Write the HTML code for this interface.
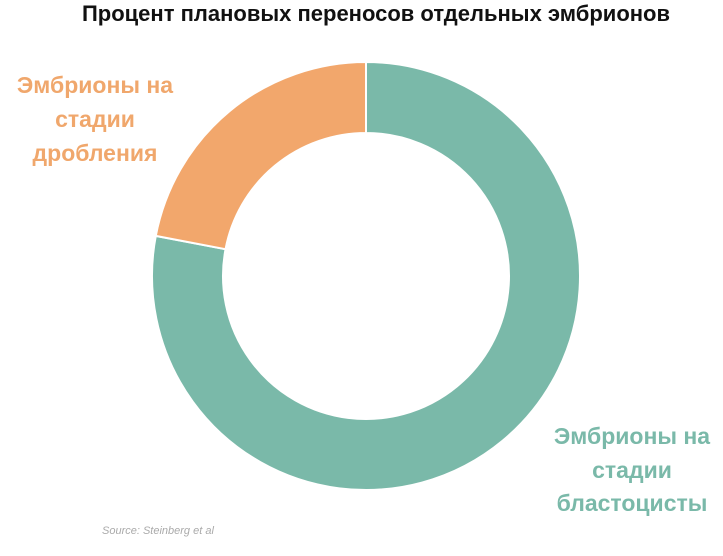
<!DOCTYPE html>
<html><head><meta charset="utf-8"><style>
body{margin:0;background:#fff;width:723px;height:551px;overflow:hidden;font-family:"Liberation Sans","DejaVu Sans",sans-serif;}
</style></head><body>
<svg width="723" height="551">
<text x="376" y="21" text-anchor="middle" font-size="22" font-weight="bold" fill="#111">Процент плановых переносов отдельных эмбрионов</text>
<g id="slices"></g>
<g font-size="23" font-weight="bold" fill="#f0a76c">
<text x="95" y="93" text-anchor="middle">Эмбрионы на</text>
<text x="95" y="127" text-anchor="middle">стадии</text>
<text x="95" y="161" text-anchor="middle">дробления</text>
</g>
<g font-size="23" font-weight="bold" fill="#7ab9a9">
<text x="632" y="444" text-anchor="middle">Эмбрионы на</text>
<text x="632" y="478" text-anchor="middle">стадии</text>
<text x="632" y="511" text-anchor="middle">бластоцисты</text>
</g>
<text x="102" y="534" font-size="11" font-style="italic" fill="#aaa">Source: Steinberg et al</text>
</svg>
<script>
const categories=["Бластоцисты","Дробления"];
const values=[78,22];
const colors=["#7ab9a9","#f2a76c"];
const cx=366,cy=276,ro=214,ri=143;
const g=document.getElementById('slices');
const total=values.reduce((a,b)=>a+b,0);
let a0=0;
function pt(r,a){return [cx+r*Math.sin(a),cy-r*Math.cos(a)];}
values.forEach((v,i)=>{
 const a1=a0+v/total*2*Math.PI;
 const large=(a1-a0)>Math.PI?1:0;
 const [x1,y1]=pt(ro,a0),[x2,y2]=pt(ro,a1),[x3,y3]=pt(ri,a1),[x4,y4]=pt(ri,a0);
 const p=document.createElementNS('http://www.w3.org/2000/svg','path');
 p.setAttribute('d',`M${x1},${y1}A${ro},${ro} 0 ${large} 1 ${x2},${y2}L${x3},${y3}A${ri},${ri} 0 ${large} 0 ${x4},${y4}Z`);
 p.setAttribute('fill',colors[i]);
 p.setAttribute('stroke','#fff');
 p.setAttribute('stroke-width','2');
 
 
 g.appendChild(p);
 a0=a1;
});
</script>
</body></html>
